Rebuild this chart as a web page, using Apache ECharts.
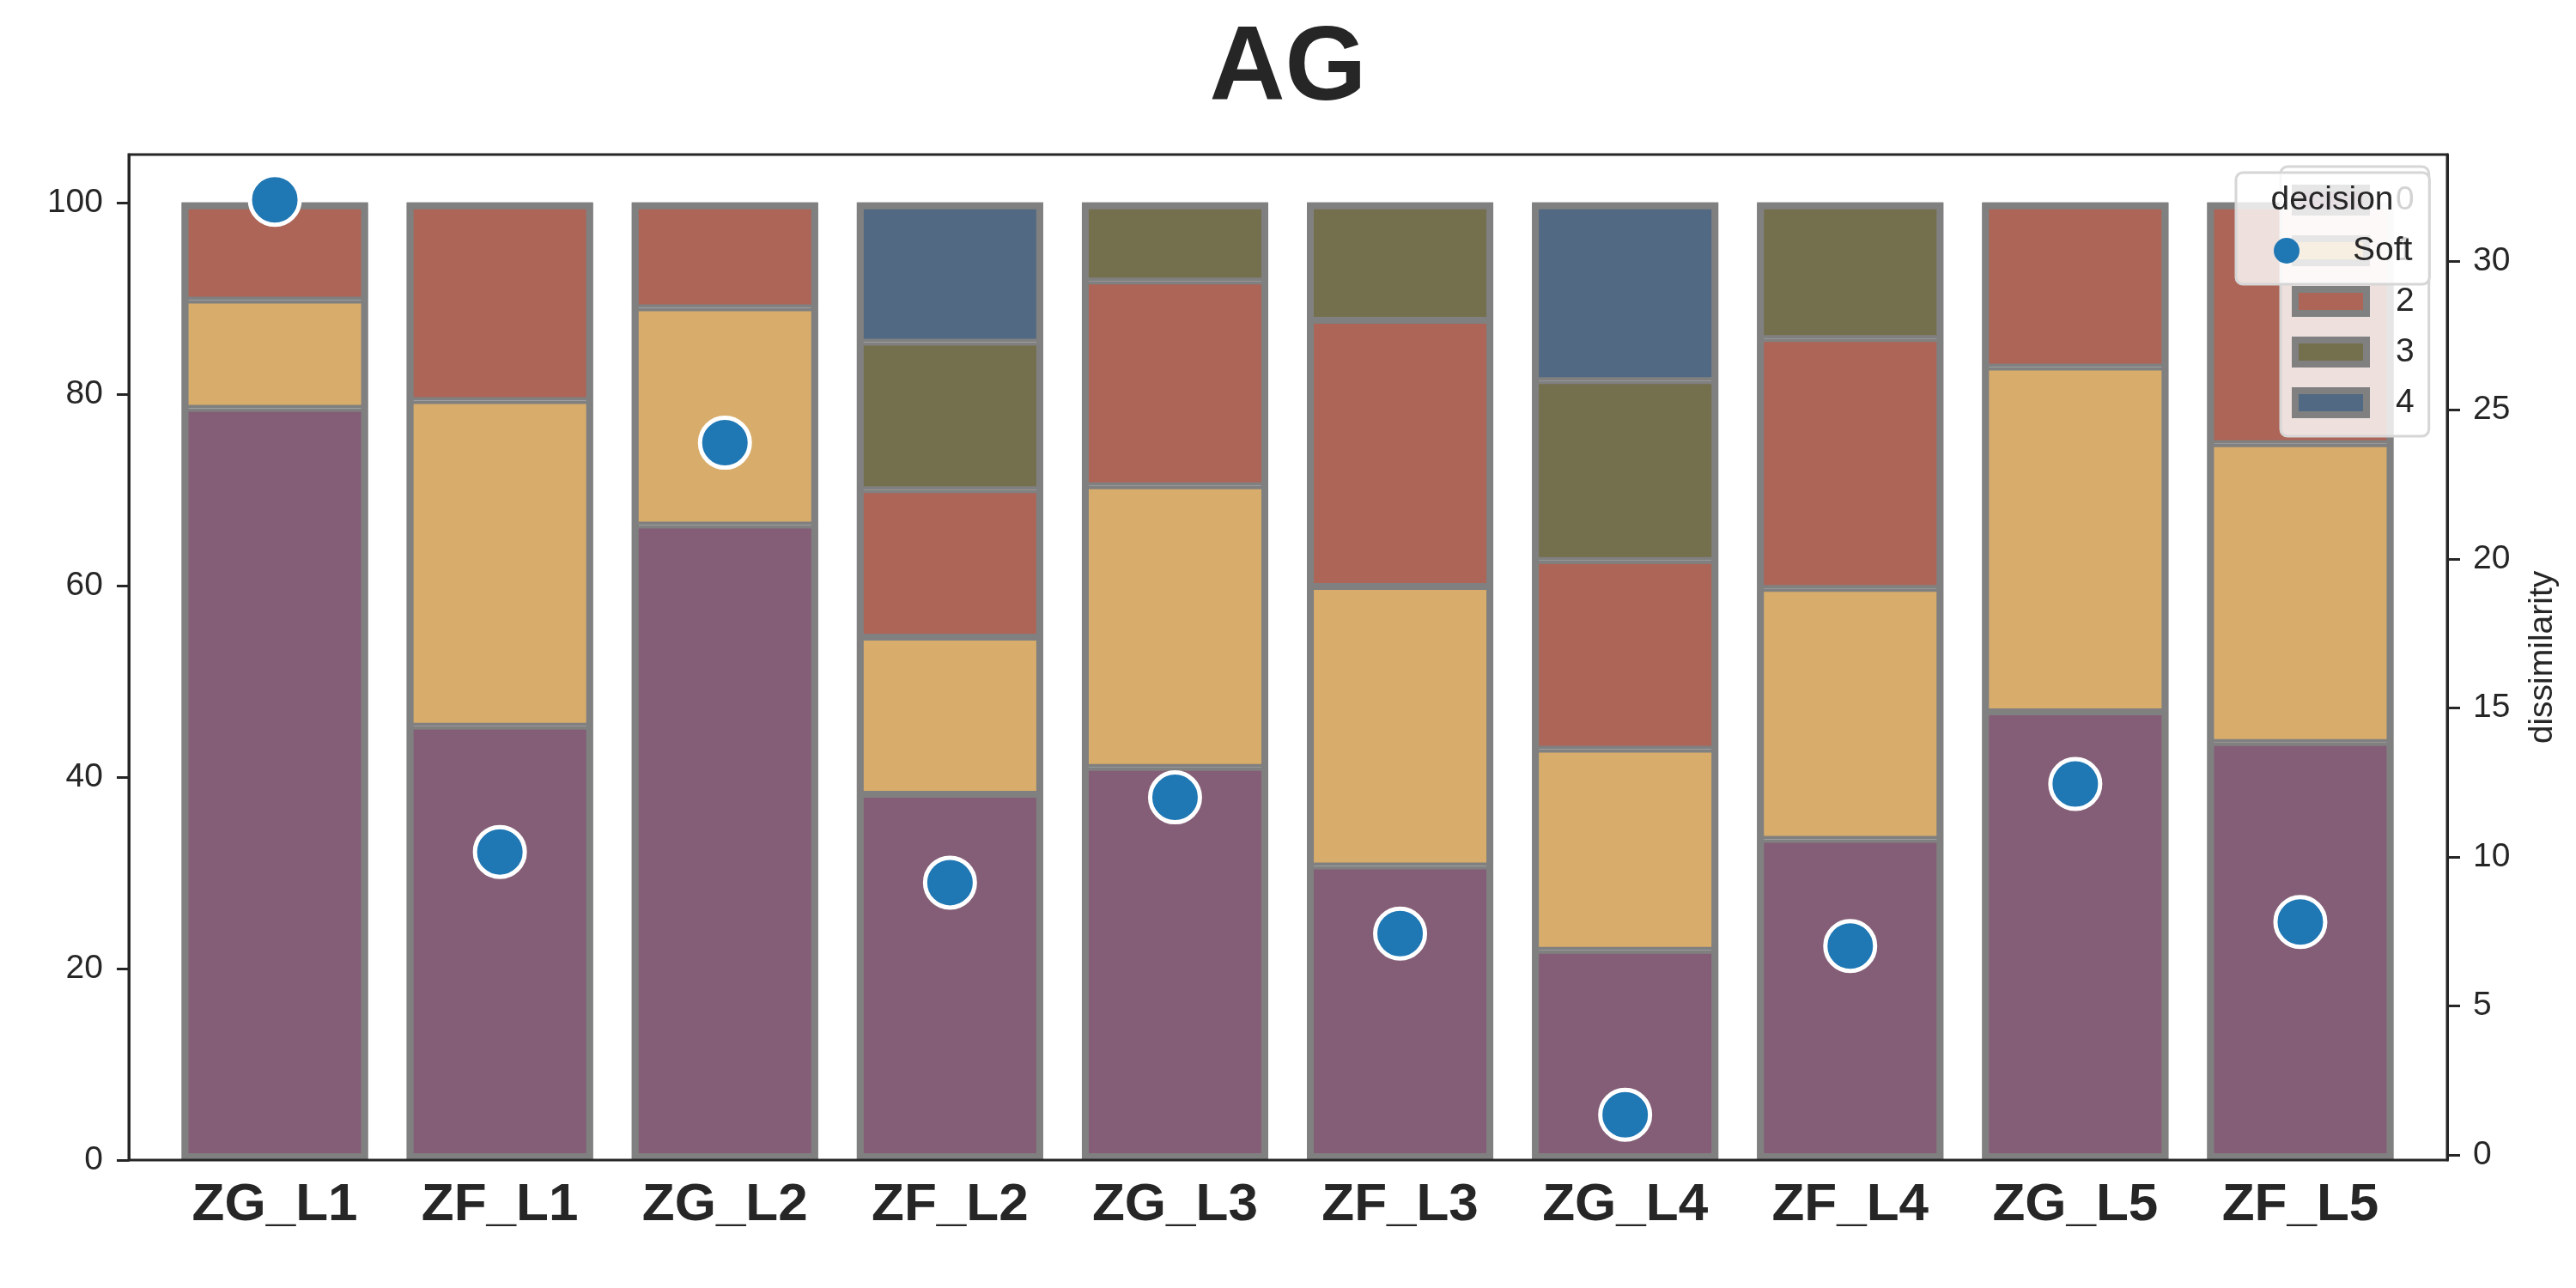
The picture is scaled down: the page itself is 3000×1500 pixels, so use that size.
<!DOCTYPE html>
<html>
<head>
<meta charset="utf-8">
<script src="https://cdn.jsdelivr.net/npm/echarts@6/dist/echarts.min.js"></script>
<style>
html,body{margin:0;padding:0;background:#fff;}
#chart{width:3000px;height:1500px;}
</style>
</head>
<body>
<div id="chart"></div>
<script>
// ---- data ----
const categories = ['ZG_L1','ZF_L1','ZG_L2','ZF_L2','ZG_L3','ZF_L3','ZG_L4','ZF_L4','ZG_L5','ZF_L5'];
const decision0 = [78.5, 45.3, 66.3, 38.2, 41.0, 30.7, 21.9, 33.5, 46.8, 43.6];
const decision1 = [11.3, 34.0, 22.7, 16.4, 29.4, 29.2, 21.0, 26.2, 36.0, 31.2];
const decision2 = [10.2, 20.7, 11.0, 15.4, 21.4, 27.8, 19.7, 26.1, 17.2, 25.2];
const decision3 = [null, null, null, 15.4, 8.2, 12.3, 18.8, 14.2, null, null];
const decision4 = [null, null, null, 14.6, null, null, 18.6, null, null, null];
const softDissimilarity = [32.05, 10.17, 23.9, 9.14, 12.0, 7.43, 1.35, 7.01, 12.45, 7.82];
const leftTicks = [0, 20, 40, 60, 80, 100];
const rightTicks = [0, 5, 10, 15, 20, 25, 30];
const barNames = ['0', '1', '2', '3', '4'];
const barColors = ['#845e76', '#d8ad6b', '#ac6557', '#746f4c', '#526983'];

const FONT = "'Liberation Sans', Arial, sans-serif";
const TXT = '#262626';
const EDGE = '#808080';

const chart = echarts.init(document.getElementById('chart'), null, {renderer: 'canvas'});

const segments = [decision0, decision1, decision2, decision3, decision4];
const stackTotals = categories.map((_, j) =>
  segments.reduce((s, arr) => s + (arr[j] == null ? 0 : arr[j]), 0));

const barSeries = segments.map((d, i) => ({
  name: barNames[i],
  type: 'bar',
  stack: 'total',
  data: d,
  barWidth: 217,
  barGap: '-100%',
  itemStyle: {color: barColors[i], borderColor: EDGE, borderWidth: 4},
  z: 2
}));

// outline of each whole stacked bar (edge drawn over the outer border)
barSeries.push({
  name: 'outline',
  type: 'bar',
  data: stackTotals,
  barWidth: 217,
  barGap: '-100%',
  silent: true,
  itemStyle: {color: 'rgba(0,0,0,0)', borderColor: EDGE, borderWidth: 8},
  z: 3
});

const option = {
  backgroundColor: '#ffffff',
  animation: false,
  title: {
    text: 'AG',
    left: 'center',
    top: 21,
    padding: 0,
    textStyle: {fontFamily: FONT, fontSize: 122, fontWeight: 'bold', color: TXT, lineHeight: 122}
  },
  grid: {left: 189, right: 190, top: 180, bottom: 149, containLabel: false},
  xAxis: {
    type: 'category',
    data: categories,
    axisLine: {show: false},
    axisTick: {show: false},
    axisLabel: {interval: 0, margin: 22, fontFamily: FONT, fontSize: 62, fontWeight: 'bold', color: TXT, lineHeight: 62}
  },
  yAxis: [
    {
      type: 'value', position: 'left', offset: 39, min: 0, max: 105,
      splitLine: {show: false},
      axisLine: {show: true, lineStyle: {color: TXT, width: 3}},
      axisTick: {show: true, length: 14, lineStyle: {color: TXT, width: 3}, customValues: leftTicks},
      axisLabel: {margin: 30, fontFamily: FONT, fontSize: 39, color: TXT, customValues: leftTicks}
    },
    {
      type: 'value', position: 'right', offset: 40, min: -0.17, max: 33.57,
      name: 'dissimilarity', nameLocation: 'middle', nameRotate: 90, nameGap: 92,
      nameTextStyle: {fontFamily: FONT, fontSize: 39, color: TXT},
      splitLine: {show: false},
      axisLine: {show: true, lineStyle: {color: TXT, width: 3}},
      axisTick: {show: true, length: 15, lineStyle: {color: TXT, width: 3}, customValues: rightTicks},
      axisLabel: {margin: 30, fontFamily: FONT, fontSize: 39, color: TXT, customValues: rightTicks}
    }
  ],
  legend: [
    {
      id: 'barLegend',
      data: barNames,
      orient: 'vertical',
      left: 2656, top: 194,
      padding: [19, 17, 19, 13],
      itemWidth: 83, itemHeight: 28, itemGap: 19,
      icon: 'rect',
      itemStyle: {borderColor: EDGE, borderWidth: 8},
      textStyle: {fontFamily: FONT, fontSize: 39, lineHeight: 40, color: TXT, padding: [0, 0, 0, 29]},
      backgroundColor: 'rgba(255,255,255,0.8)',
      borderColor: '#d6d6d6', borderWidth: 3, borderRadius: 8,
      selectedMode: false,
      z: 4
    },
    {
      id: 'softLegend',
      data: ['Soft'],
      orient: 'vertical',
      left: 2604, top: 201,
      padding: [71, 20, 19, 44],
      itemWidth: 30, itemHeight: 30,
      icon: 'circle',
      itemStyle: {borderWidth: 0},
      textStyle: {fontFamily: FONT, fontSize: 39, lineHeight: 40, color: TXT, padding: [0, 0, 0, 57]},
      backgroundColor: 'rgba(255,255,255,0.8)',
      borderColor: '#d6d6d6', borderWidth: 3, borderRadius: 8,
      selectedMode: false,
      z: 5
    }
  ],
  graphic: {
    elements: [
      {
        type: 'rect', silent: true, z: 50,
        shape: {x: 150, y: 180, width: 2700, height: 1171},
        style: {fill: 'none', stroke: TXT, lineWidth: 3}
      },
      {
        type: 'text', silent: true, z: 100,
        x: 2716, y: 233,
        style: {text: 'decision', fontFamily: FONT, fontSize: 39, fill: TXT, align: 'center', verticalAlign: 'middle'}
      }
    ]
  },
  series: barSeries.concat([{
    name: 'Soft',
    type: 'scatter',
    yAxisIndex: 1,
    data: softDissimilarity,
    symbol: 'circle',
    symbolSize: 58,
    itemStyle: {color: '#1f77b4', borderColor: '#ffffff', borderWidth: 5, opacity: 1},
    z: 10
  }])
};
chart.setOption(option);
</script>
</body>
</html>
